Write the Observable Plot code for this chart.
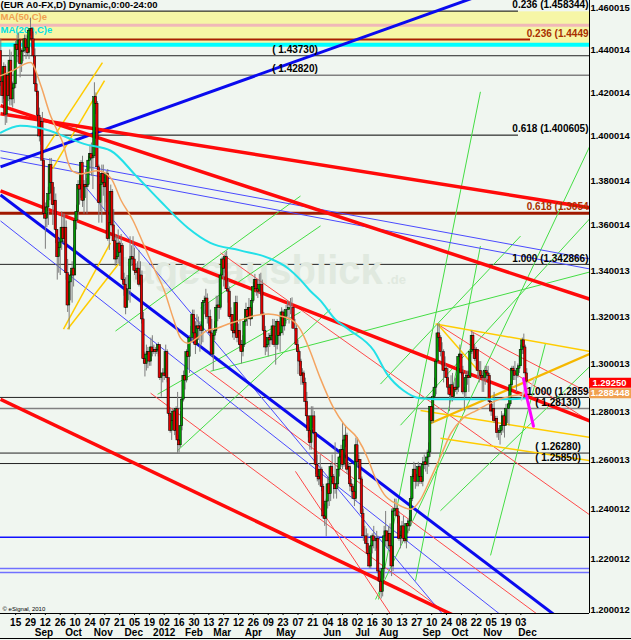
<!DOCTYPE html>
<html><head><meta charset="utf-8">
<script src="https://cdn.jsdelivr.net/npm/d3@7"></script>
<script src="https://cdn.jsdelivr.net/npm/@observablehq/plot@0.6"></script>
<style>
html,body{margin:0;padding:0;background:#f0f6f0;}
#wrap{position:relative;width:631px;height:640px;overflow:hidden;background:#f0f6f0;}
#wrap svg{display:block;}
#edge{position:absolute;left:0;top:638px;width:631px;height:1px;background:#000;z-index:2;}
</style></head>
<body><div id="wrap"><div id="edge"></div></div>
<script>
// ---- Daily EUR/USD bars (Aug 1 2011 .. Dec 7 2012), prices in pips above 1.0000 ----
const firstOpen = 4395;
const closes = [
4250,4185,4320,4100,4280, 4185,4350,4170,4220,4240, 4425,4400,4445,4335,4390, 4395,4450,4410,4385,4490,
4500,4450,4370,4240,4205, 4095,4000,4065,3890,3650, 3630,3680,3740,3870,3790, 3690,3710,3580,3460,3500,
3525,3590,3540,3590,3390, 3250,3350,3380,3410,3380, 3620,3660,3780,3760,3880, 3710,3780,3770,3780,3890,
3920,3900,3910,4180,4150, 3860,3700,3780,3830,3790, 3770,3830,3540,3610,3750, 3600,3530,3450,3460,3520,
3480,3510,3360,3340,3240, 3320,3320,3450,3460,3450, 3400,3390,3410,3340,3380, 3190,3020,3000,3040,3050,
3010,3070,3050,3060,3050, 3060,3080,2940,2960,2960, 2950,3050,2940,2790,2720, 2760,2800,2720,2810,2680,
2660,2740,2850,2950,2930, 3050,3030,3110,3110,3210, 3130,3080,3160,3150,3160, 3140,3260,3270,3280,3200,
3200,3130,3040,3120,3140, 3240,3250,3240,3380,3450, 3410,3460,3320,3310,3200, 3210,3140,3130,3260,3110,
3140,3080,3050,3080,3180, 3230,3200,3240,3190,3270, 3330,3360,3320,3310,3340, 3340,3210,3140,3070,3080,
3110,3100,3120,3160,3080, 3080,3180,3120,3130,3220, 3160,3200,3230,3230,3240, 3240,3240,3150,3150,3080,
3050,3010,2950,2960,2920, 2840,2780,2720,2670,2780, 2780,2710,2580,2530,2520, 2560,2490,2370,2360,2430,
2500,2460,2570,2530,2500, 2480,2500,2560,2610,2640, 2580,2680,2700,2560,2570, 2500,2490,2470,2440,2660,
2590,2600,2520,2380,2290, 2290,2260,2220,2170,2250, 2290,2270,2270,2280,2150, 2110,2070,2160,2290,2310,
2270,2300,2250,2170,2390, 2400,2400,2370,2280,2290, 2330,2280,2270,2340,2330, 2350,2440,2530,2560,2510,
2510,2570,2530,2510,2580, 2590,2580,2610,2630,2820, 2760,2860,2900,3010,3130, 3110,3050,3050,2970,2980,
2940,2900,2870,2910,2860, 2900,2890,2900,3030,3040, 2960,2880,2880,2940,2950, 2940,3050,3120,3060,3020,
3060,2970,2970,2950,2940, 2940,2970,2960,2950,2840, 2800,2810,2760,2770,2710, 2710,2720,2740,2780,2740,
2810,2810,2830,2910,2980, 2970,2950,2950,2980,2990, 3060,3100,3070,2960,2925];
const highs = [
4450,4300,4340,4330,4290, 4340,4400,4390,4250,4290, 4440,4470,4480,4450,4405, 4440,4470,4470,4465,4495,
4550,4505,4485,4405,4290, 4210,4130,4085,4110,3900, 3700,3710,3770,3900,3900, 3790,3770,3740,3580,3540,
3540,3660,3650,3650,3620, 3450,3370,3400,3440,3510, 3650,3690,3800,3820,3890, 3910,3800,3850,3810,3910,
3960,3970,3960,4247,4200, 4160,3870,3800,3870,3870, 3830,3840,3850,3640,3780, 3760,3670,3560,3550,3580,
3530,3560,3520,3390,3370, 3380,3380,3550,3510,3550, 3500,3430,3440,3490,3440, 3400,3220,3050,3080,3070,
3060,3110,3120,3080,3070, 3080,3090,3080,2960,2980, 2980,3080,3060,2940,2810, 2790,2810,2800,2820,2880,
2700,2800,2860,2970,2990, 3060,3080,3120,3160,3230, 3230,3180,3210,3200,3180, 3180,3270,3290,3320,3300,
3260,3230,3190,3140,3180, 3290,3290,3270,3390,3460, 3460,3480,3486,3360,3330, 3240,3210,3160,3290,3290,
3170,3190,3100,3120,3190, 3260,3240,3280,3250,3280, 3350,3385,3360,3360,3385, 3390,3360,3220,3160,3110,
3130,3130,3140,3190,3190, 3120,3190,3180,3170,3240, 3230,3220,3250,3270,3265, 3280,3283,3240,3190,3170,
3100,3060,3020,2980,2970, 2940,2880,2780,2770,2820, 2820,2800,2710,2620,2560, 2620,2570,2500,2420,2440,
2530,2520,2580,2620,2540, 2670,2530,2580,2630,2660, 2750,2700,2740,2710,2590, 2580,2520,2500,2500,2690,
2690,2620,2600,2530,2400, 2330,2320,2300,2240,2260, 2300,2330,2290,2310,2290, 2160,2130,2170,2330,2390,
2310,2330,2340,2400,2390, 2440,2440,2410,2390,2310, 2350,2370,2330,2340,2360, 2370,2450,2540,2590,2580,
2540,2590,2580,2560,2610, 2620,2610,2640,2670,2820, 2820,2870,2940,3010,3170, 3172,3120,3090,3060,3030,
2990,2980,2900,2950,2960, 2920,2940,2950,3040,3080, 3040,2990,2900,2970,2970, 2970,3060,3140,3130,3080,
3070,3060,3010,3010,2970, 2960,2990,2990,2990,2960, 2840,2830,2880,2780,2780, 2730,2740,2800,2790,2790,
2830,2830,2850,2920,2990, 2990,3010,2960,3000,3030, 3080,3110,3127,3080,2980];
const lows = [
4230,4150,4170,4050,4060, 4160,4140,4140,4130,4150, 4220,4340,4365,4270,4295, 4345,4385,4355,4375,4355,
4465,4405,4360,4235,4185, 4040,3975,3960,3870,3630, 3495,3590,3600,3710,3740, 3600,3650,3520,3360,3390,
3380,3490,3520,3520,3360, 3220,3145,3270,3260,3330, 3380,3580,3620,3690,3720, 3680,3650,3720,3650,3770,
3850,3820,3760,3900,4100, 3840,3610,3660,3610,3730, 3660,3700,3530,3490,3600, 3590,3490,3420,3430,3430,
3420,3420,3350,3290,3210, 3240,3270,3260,3420,3420, 3380,3360,3350,3330,3260, 3170,3000,2945,2970,2980,
2990,2990,3030,3040,3030, 3040,3030,2930,2860,2920, 2930,2940,2920,2780,2710, 2680,2740,2700,2690,2624,
2630,2650,2720,2840,2890, 2920,2980,2960,3090,3090, 3100,3040,3080,3100,3050, 3080,3090,3210,3190,3170,
3160,3110,3030,2970,3100, 3130,3180,3190,3230,3370, 3330,3390,3310,3260,3190, 3160,3110,3100,3120,3090,
3080,3060,3000,3030,3070, 3160,3160,3190,3160,3190, 3260,3320,3290,3280,3300, 3290,3200,3120,3035,3050,
3030,3070,3080,3080,3070, 2995,3060,3080,3050,3130, 3120,3140,3170,3200,3170, 3210,3190,3150,3140,3050,
2955,2990,2910,2910,2910, 2820,2760,2690,2640,2640, 2730,2650,2540,2510,2495, 2500,2470,2360,2330,2288,
2400,2410,2430,2500,2440, 2460,2440,2480,2530,2570, 2560,2570,2650,2540,2520, 2470,2440,2440,2410,2430,
2570,2570,2500,2370,2270, 2260,2240,2210,2160,2160, 2220,2240,2230,2240,2145, 2070,2042,2050,2120,2250,
2240,2240,2250,2130,2150, 2370,2370,2340,2270,2240, 2260,2270,2260,2240,2300, 2310,2330,2430,2520,2480,
2490,2490,2500,2500,2490, 2560,2550,2540,2570,2610, 2750,2750,2860,2870,3000, 3070,3030,2990,2920,2940,
2910,2890,2800,2840,2840, 2850,2880,2870,2880,3000, 2950,2870,2800,2860,2910, 2880,2940,3040,3050,3010,
3010,2940,2920,2940,2880, 2880,2910,2930,2920,2830, 2780,2760,2750,2720,2690, 2680,2661,2700,2710,2690,
2740,2750,2740,2820,2900, 2930,2930,2880,2940,2960, 2990,3040,3040,2950,2880];

// ---- Moving averages (bar index, pips) ----
const ma50Index = [0,7,20,27,33,38,42,45,48,54,58,65,74,81,89,96,103,110,116,121,126,132,139,146,153,161,170,180,188,195,202,208,215,224,231,240,247,251,258,267,276,282,289,296,303,311,320,328,338,350,354];
const ma50Pips  = [4280,4300,4341,4233,4104,4026,3966,3889,3844,3830,3835,3844,3812,3711,3622,3518,3413,3315,3196,3110,3088,3110,3143,3153,3170,3186,3205,3213,3205,3191,3143,3057,2940,2814,2747,2689,2606,2541,2459,2419,2399,2434,2520,2615,2710,2772,2804,2831,2856,2872,2877];
const ma200Index = [0,13,33,45,56,74,91,107,126,141,161,180,193,202,208,215,225,235,251,260,271,282,303,323,336,354];
const ma200Pips  = [4017,4049,4026,3994,3966,3935,3822,3711,3589,3523,3490,3457,3413,3359,3315,3272,3191,3143,3057,2957,2888,2856,2851,2851,2851,2856];

// ---- Axis ticks ----
const dayTicks = [10,20,30,40,50,60,70,80,90,100,110,120,130,140,150,160,170,180,190,200,210,220,230,240,250,260,270,280,290,300,310,320,330,340,350];
const dayLabels = ["15","29","12","26","10","24","07","21","05","19","02","16","30","13","27","12","26","09","23","07","21","04","18","02","16","30","13","27","10","24","08","22","05","19","03"];
const monthTicks = [29,49,69,89.5,110,130,149,170,192,223,243.5,261,290,309,331,354.5];
const monthLabels = ["Sep","Oct","Nov","Dec","2012","Feb","Mar","Apr","May","Jun","Jul","Aug","Sep","Oct","Nov","Dec"];
const priceTicks = [1.460015,1.440014,1.420014,1.400014,1.380014,1.360014,1.340013,1.320013,1.300013,1.280013,1.260013,1.240012,1.220012,1.200012];
const priceTickLabels = ["1.460015","1.440014","1.420014","1.400014","1.380014","1.360014","1.340013","1.320013","1.300013","1.280013","1.260013","1.240012","1.220012","1.200012"];

// ---- Horizontal levels ----
const bandLevels = [1.4430, 1.4580];
const pinkLevel = [1.4517];
const cyanLevel = [1.4425];
const shortBlackLevels = [1.458344, 1.400605];
const blackLevels = [1.43730, 1.342866, 1.2859, 1.26280, 1.25850];
const grayLevels = [1.42820, 1.28130];
const brownShortLevels = [1.4449];
const brownLevels = [1.3654];
const blueLevels = [1.2286];
const lightBlueLevels = [1.2162, 1.2146];

// level labels: [text, price]
const rightBlackLabels = [["0.236 (1.458344)",1.458344],["0.618 (1.400605)",1.400605],["1.000 (1.342866)",1.342866],["1.000 (1.2859",1.2859]];
const rightBrownLabels = [["0.236 (1.4449",1.4449],["0.618 (1.3654",1.3654]];
const midLabels = [["( 1.43730)",1.43730],["( 1.42820)",1.42820]];
const nearRightLabels = [["( 1.28130)",1.28130],["( 1.26280)",1.26280],["( 1.25850)",1.25850]];

// ---- Drawn trend lines: [index1, price1, index2, price2] ----
const thickRedLines = [[-0.2,1.4104,396.9,1.3678],[-0.2,1.4141,396.2,1.3278],[-0.2,1.3754,396.9,1.2760],[-0.2,1.2851,322.8,1.1928]];
const thickBlueLines = [[-0.2,1.3862,336.3,1.4693],[-0.2,1.3736,390.1,1.1903]];
const thinBlueLines = [[-0.2,1.3935,396.9,1.3452],[-0.2,1.3903,396.9,1.3408],[-0.2,1.3620,349.8,1.1919],[53.6,1.3799,306.0,1.1922]];
const thinRedLines = [[147.9,1.3479,396.9,1.2374],[137.8,1.2978,373.3,1.1930],[100.8,1.2877,309.4,1.1946],[293.9,1.3170,396.2,1.2760],[316.1,1.3140,396.2,1.2877],[198.3,1.2553,265.6,1.1954]];
const greenLines = [[252.2,1.2040,407.0,1.4108],[254.2,1.2040,322.8,1.4205],[269.0,1.2743,403.6,1.3682],[141.1,1.2969,396.2,1.3395],[77.2,1.3140,201.7,1.3731],[105.5,1.2872,201.7,1.3222],[118.9,1.2638,221.9,1.3234],[134.4,1.3239,215.2,1.3598],[255.5,1.2915,349.8,1.3553],[279.1,1.2114,322.8,1.3509],[329.6,1.2214,366.6,1.3088],[295.9,1.2393,403.6,1.3033]];
const yellowLines = [[26.7,1.3907,68.4,1.4341],[34.8,1.3853,69.8,1.4257],[42.2,1.3148,73.8,1.3523],[44.9,1.3148,79.2,1.3430],[292.6,1.3170,396.2,1.3054],[293.9,1.3170,322.8,1.2961],[282.5,1.2804,396.2,1.2693],[295.9,1.2689,396.2,1.2597]];
const goldLines = [[289.2,1.2751,396.2,1.3042]];
const projectionGray = [[350.4,1.2846],[353.1,1.2917],[355.8,1.2875],[359.2,1.2938]];
const projectionMagenta = [[351.8,1.2938],[354.5,1.2846],[358.5,1.2739]];

const lastClose = 1.2925, lastCloseText = "1.29250";
const maLast = 1.288448, maLastText = "1.288448";

const titleText = "(EUR A0-FX,D) Dynamic,0:00-24:00";

// ---- build ----
const toPrice = v => 1 + v / 10000;
const bars = closes.map((c, i) => ({
  i, o: toPrice(i === 0 ? firstOpen : closes[i - 1]), h: toPrice(highs[i]), l: toPrice(lows[i]), c: toPrice(c)
}));
const upBars = bars.filter(d => d.c >= d.o);
const downBars = bars.filter(d => d.c < d.o);
const ma50 = ma50Index.map((i, k) => ({i, p: toPrice(ma50Pips[k])}));
const ma200 = ma200Index.map((i, k) => ({i, p: toPrice(ma200Pips[k])}));
const dayMap = new Map(dayTicks.map((t, k) => [t, dayLabels[k]]));
const monthMap = new Map(monthTicks.map((t, k) => [t, monthLabels[k]]));
const priceMap = new Map(priceTicks.map((t, k) => [t, priceTickLabels[k]]));

const XL = -0.2, XR = 396.2, XOUT = 424.7;
const seg = (data, stroke, strokeWidth) => Plot.link(data, {x1: d => d[0], y1: d => d[1], x2: d => d[2], y2: d => d[3], stroke, strokeWidth, clip: true});
const hl = (data, stroke, strokeWidth, x2 = XR) => Plot.ruleY(data, {x1: () => XL, x2: () => x2, stroke, strokeWidth, clip: true});

const chart = Plot.plot({
  width: 631, height: 640,
  marginTop: 0, marginLeft: 0, marginRight: 42, marginBottom: 27,
  style: {fontFamily: "'Liberation Sans', Arial, sans-serif", fontSize: "10px", fontWeight: "bold", color: "#000", background: "#f0f6f0"},
  x: {type: "linear", domain: [XL, XR], label: null},
  y: {type: "log", domain: [1.1985, 1.4634], label: null},
  marks: [
    Plot.rect([bandLevels], {x1: () => XL, x2: () => XR, y1: d => d[0], y2: d => d[1], fill: "#f6f6a6"}),
    hl(pinkLevel, "#f0b8b8", 3),
    hl(cyanLevel, "#00ffff", 4),
    hl(shortBlackLevels, "#000", 1, 348.4),
    hl(brownShortLevels, "#a82000", 2, 356.5),
    hl(blackLevels, "#222", 1),
    hl(grayLevels, "#808080", 1.5),
    hl(brownLevels, "#a01800", 3),
    hl(blueLevels, "#1010ff", 1.5),
    hl(lightBlueLevels, "#7070ff", 1.5),
    Plot.text(["tagesausblick"], {x: () => 79, y: () => 1.3398, textAnchor: "start", fontSize: 40, fontWeight: "bold", fill: "#e0e9df"}),
    Plot.text([".de"], {x: () => 260, y: () => 1.3360, textAnchor: "start", fontSize: 13, fontWeight: "bold", fill: "#e0e9df"}),
    seg(greenLines, "#44dd44", 1),
    seg(thinRedLines, "#ff4a4a", 1),
    seg(thinBlueLines, "#4a4aff", 1),
    seg(yellowLines, "#ffcc00", 1.5),
    seg(goldLines, "#f5b800", 2.2),
    seg(thickBlueLines, "#0a0aee", 3),
    seg(thickRedLines, "#ff0a0a", 3.5),
    Plot.text([titleText], {frameAnchor: "top-left", dx: 0, dy: 1, lineAnchor: "top", textAnchor: "start", fontSize: 9.5, fill: "#000"}),
    Plot.text(["MA(50,C)e"], {frameAnchor: "top-left", dx: 0, dy: 13, lineAnchor: "top", textAnchor: "start", fontSize: 9.5, fill: "#f0a050"}),
    Plot.text(["MA(200,C)e"], {frameAnchor: "top-left", dx: 0, dy: 26, lineAnchor: "top", textAnchor: "start", fontSize: 9.5, fill: "#00e0e8"}),
    Plot.ruleX(bars, {x: "i", y1: "l", y2: "h", stroke: "#7c7c7c", strokeWidth: 1, clip: true}),
    Plot.rect(upBars, {x1: d => d.i - 0.8, x2: d => d.i + 0.8, y1: "o", y2: "c", fill: "#009a00", stroke: "#000", strokeWidth: 0.5, clip: true}),
    Plot.rect(downBars, {x1: d => d.i - 0.8, x2: d => d.i + 0.8, y1: "o", y2: "c", fill: "#e00000", stroke: "#000", strokeWidth: 0.5, clip: true}),
    Plot.line(ma200, {x: "i", y: "p", stroke: "#22e0e8", strokeWidth: 2, curve: "monotone-x", clip: true}),
    Plot.line(ma50, {x: "i", y: "p", stroke: "#f4a460", strokeWidth: 1.5, curve: "monotone-x", clip: true}),
    Plot.line(projectionGray, {x: d => d[0], y: d => d[1], stroke: "#c8c8c8", strokeWidth: 1.5}),
    Plot.line(projectionMagenta, {x: d => d[0], y: d => d[1], stroke: "#ff00ff", strokeWidth: 3}),
    Plot.text(rightBlackLabels, {frameAnchor: "right", y: d => d[1], text: d => d[0], textAnchor: "end", dx: -1, dy: -6, fill: "#000"}),
    Plot.text(rightBrownLabels, {frameAnchor: "right", y: d => d[1], text: d => d[0], textAnchor: "end", dx: -1, dy: -6, fill: "#a83000"}),
    Plot.text(midLabels, {x: () => 198, y: d => d[1], text: d => d[0], textAnchor: "middle", dy: -6, fill: "#000"}),
    Plot.text(nearRightLabels, {x: () => 375, y: d => d[1], text: d => d[0], textAnchor: "middle", dy: -6, fill: "#000"}),
    Plot.text(["© eSignal, 2010"], {frameAnchor: "bottom-left", dx: 2, dy: -3, textAnchor: "start", fontSize: 6, fontWeight: "normal", fill: "#000"}),
    Plot.ruleX([XR], {stroke: "#000", strokeWidth: 1}),
    Plot.ruleY([1.1985], {stroke: "#000", strokeWidth: 1}),
    Plot.axisY({anchor: "right", ticks: priceTicks, tickFormat: d => priceMap.get(d), tickSize: 0, tickPadding: 1, label: null, fill: "#000", fontSize: 9.4}),
    Plot.axisX({anchor: "bottom", ticks: dayTicks, tickFormat: d => dayMap.get(d), tickSize: 2, tickPadding: 3, label: null, fill: "#000", stroke: "#000", fontSize: 10}),
    Plot.axisX({anchor: "bottom", ticks: monthTicks, tickFormat: d => monthMap.get(d), tickSize: 0, tickPadding: 15, label: null, fill: "#000", fontSize: 10}),
    Plot.ruleY([maLast], {x1: () => XR, x2: () => XOUT, stroke: "#f0a050", strokeWidth: 10, dy: 2}),
    Plot.ruleY([lastClose], {x1: () => XR, x2: () => XOUT, stroke: "#ff0000", strokeWidth: 10, dy: 1}),
    Plot.text([[maLastText, maLast]], {x: () => XR, y: d => d[1], text: d => d[0], textAnchor: "start", dx: 1, dy: 2, fill: "#fff", fontSize: 9.4}),
    Plot.text([[lastCloseText, lastClose]], {x: () => XR, y: d => d[1], text: d => d[0], textAnchor: "start", dx: 3, dy: 1, fill: "#fff", fontSize: 9.4})
  ]
});
document.getElementById("wrap").prepend(chart);
</script>
</body></html>
